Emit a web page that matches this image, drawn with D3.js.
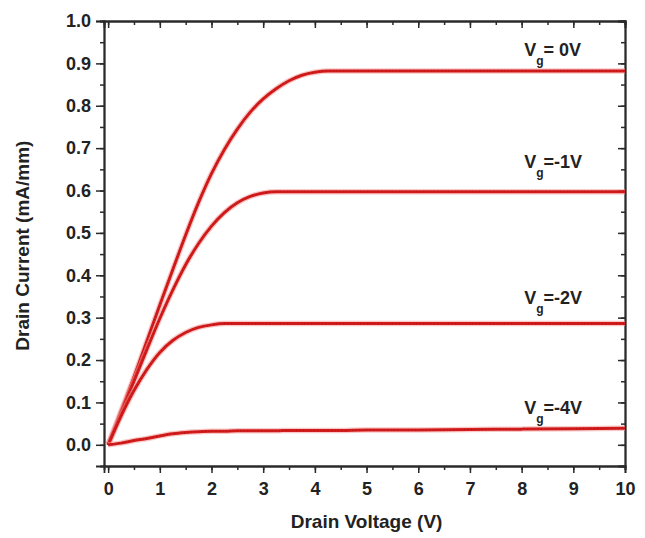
<!DOCTYPE html>
<html>
<head>
<meta charset="utf-8">
<script src="https://cdn.jsdelivr.net/npm/d3@7"></script>
<style>
  body { margin: 0; background: #fff; }
  svg text { font-family: "Liberation Sans", Arial, sans-serif; font-weight: bold; fill: #222; }
</style>
</head>
<body>
<svg id="chart"></svg>
<script>
const width = 645;
const height = 538;
const margin = {left: 104, right: 20, top: 21, bottom: 72};

// drain voltage (V), shared by all curves
const vds = [0, 0.25, 0.5, 0.75, 1, 1.25, 1.5, 1.75, 2, 2.25, 2.5, 2.75, 3,
  3.25, 3.5, 3.75, 4, 4.25, 4.5, 5, 6, 7, 8, 9, 10];

// drain current (mA/mm) for each gate voltage
const id0 = [0, 0.08, 0.16, 0.245, 0.33, 0.413, 0.495, 0.572, 0.64, 0.697, 0.745, 0.785, 0.816,
  0.84, 0.859, 0.872, 0.879, 0.882, 0.882, 0.882, 0.882, 0.882, 0.882, 0.882, 0.882];
const id1 = [0, 0.075, 0.15, 0.225, 0.298, 0.365, 0.425, 0.475, 0.516, 0.548, 0.571, 0.586, 0.594,
  0.597, 0.597, 0.597, 0.597, 0.597, 0.597, 0.597, 0.597, 0.597, 0.597, 0.597, 0.597];
const id2 = [0, 0.068, 0.128, 0.178, 0.218, 0.246, 0.265, 0.277, 0.283, 0.286, 0.286, 0.286, 0.286,
  0.286, 0.286, 0.286, 0.286, 0.286, 0.286, 0.286, 0.286, 0.286, 0.286, 0.286, 0.286];
const id4 = [0, 0.004, 0.01, 0.015, 0.021, 0.026, 0.029, 0.031, 0.032, 0.032, 0.033, 0.033, 0.033,
  0.033, 0.034, 0.034, 0.034, 0.034, 0.034, 0.035, 0.035, 0.036, 0.037, 0.038, 0.039];

const gateLabels = ['= 0V', '=-1V', '=-2V', '=-4V'];
const labelX = [8.05, 8.05, 8.05, 8.05];
const labelY = [0.918, 0.652, 0.333, 0.072];

const xTicks = [0, 1, 2, 3, 4, 5, 6, 7, 8, 9, 10];
const yTicks = [0, 0.1, 0.2, 0.3, 0.4, 0.5, 0.6, 0.7, 0.8, 0.9, 1.0];

const plotW = width - margin.left - margin.right;
const plotH = height - margin.top - margin.bottom;

const svg = d3.select('#chart')
  .attr('width', width)
  .attr('height', height);

const g = svg.append('g')
  .attr('transform', `translate(${margin.left}, ${margin.top})`);

const x = d3.scaleLinear().domain([-0.08, 10]).range([0, plotW]);
const y = d3.scaleLinear().domain([-0.05, 1.0]).range([plotH, 0]);

const xMinor = d3.range(0, 10.01, 0.5);
const yMinor = d3.range(0, 1.001, 0.05);

function styleAxis(sel) {
  sel.select('.domain').attr('stroke', '#2a2a2a').attr('stroke-width', 1.8);
  sel.selectAll('.tick line').attr('stroke', '#2a2a2a').attr('stroke-width', 1.5);
}

// minor ticks first, majors on top
g.append('g').attr('transform', `translate(0, ${plotH})`)
  .call(d3.axisBottom(x).tickValues(xMinor).tickSize(4).tickFormat(''))
  .call(styleAxis);
g.append('g').attr('transform', `translate(0, ${plotH})`)
  .call(d3.axisBottom(x).tickValues(xTicks).tickSize(7).tickPadding(9).tickFormat(d3.format('d')))
  .call(styleAxis)
  .selectAll('text').style('font-size', '18px').attr('fill', '#222');

g.append('g')
  .call(d3.axisLeft(y).tickValues(yMinor).tickSize(4).tickFormat(''))
  .call(styleAxis);
g.append('g')
  .call(d3.axisLeft(y).tickValues(yTicks).tickSize(8).tickPadding(5).tickFormat(d3.format('.1f')))
  .call(styleAxis)
  .selectAll('text').style('font-size', '18px').attr('fill', '#222');

// top and right frame with inward ticks
g.append('g')
  .call(d3.axisTop(x).tickValues(xMinor).tickSize(-4).tickFormat(''))
  .call(styleAxis);
g.append('g')
  .call(d3.axisTop(x).tickValues(xTicks).tickSize(-7).tickFormat(''))
  .call(styleAxis);
g.append('g').attr('transform', `translate(${plotW}, 0)`)
  .call(d3.axisRight(y).tickValues(yMinor).tickSize(-4).tickFormat(''))
  .call(styleAxis);
g.append('g').attr('transform', `translate(${plotW}, 0)`)
  .call(d3.axisRight(y).tickValues(yTicks).tickSize(-7).tickFormat(''))
  .call(styleAxis);

// curves: soft halo, red core, fine marker texture
const series = [id0, id1, id2, id4];
const line = d3.line()
  .x((d, i) => x(vds[i]))
  .y(d => y(d))
  .curve(d3.curveMonotoneX);

series.forEach(s => {
  g.append('path')
    .datum(s)
    .attr('fill', 'none')
    .attr('stroke', '#f29a9a')
    .attr('stroke-opacity', 0.55)
    .attr('stroke-width', 5.5)
    .attr('d', line);
  g.append('path')
    .datum(s)
    .attr('fill', 'none')
    .attr('stroke', '#d51c1c')
    .attr('stroke-width', 3)
    .attr('d', line);
  g.append('path')
    .datum(s)
    .attr('fill', 'none')
    .attr('stroke', '#a31212')
    .attr('stroke-width', 1)
    .attr('stroke-dasharray', '1,2.5')
    .attr('d', line);
});

// gate voltage labels
gateLabels.forEach((t, i) => {
  const txt = g.append('text')
    .attr('x', x(labelX[i]))
    .attr('y', y(labelY[i]))
    .style('font-size', '18px');
  txt.append('tspan').text('V');
  txt.append('tspan').text('g').style('font-size', '12px').attr('dy', 9);
  txt.append('tspan').text(t).attr('dy', -9);
});

// axis titles
svg.append('text')
  .attr('x', margin.left + x(5))
  .attr('y', 528)
  .attr('text-anchor', 'middle')
  .style('font-size', '19px')
  .text('Drain Voltage (V)');

svg.append('text')
  .attr('transform', `translate(29, ${margin.top + y(0.47)}) rotate(-90)`)
  .attr('text-anchor', 'middle')
  .style('font-size', '19px')
  .text('Drain Current (mA/mm)');
</script>
</body>
</html>
